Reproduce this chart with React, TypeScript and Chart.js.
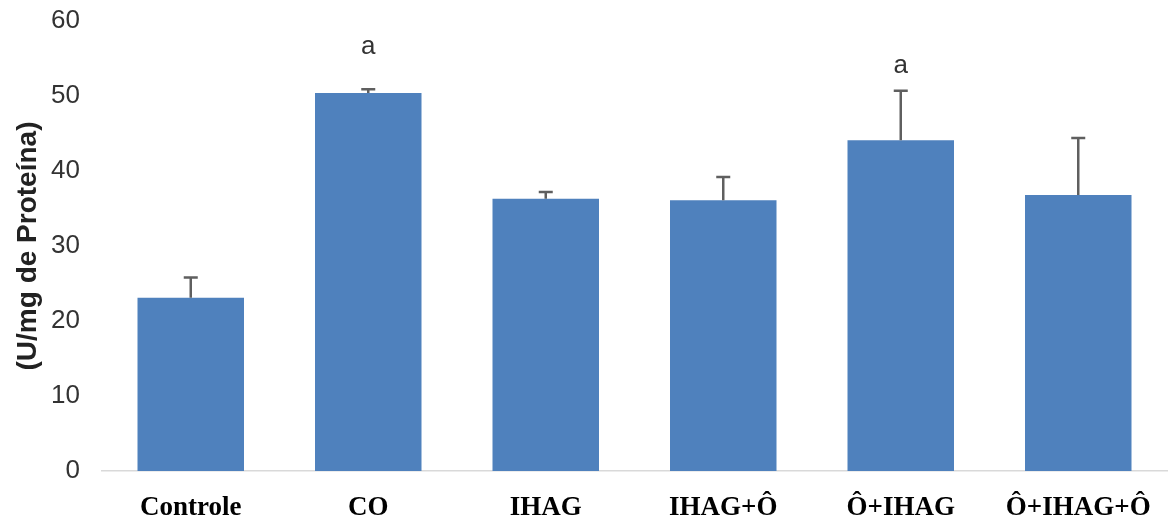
import React, { useEffect, useRef } from "react";
import { Chart, registerables } from "chart.js";

Chart.register(...registerables);

const categories = ["Controle", "CO", "IHAG", "IHAG+Ô", "Ô+IHAG", "Ô+IHAG+Ô"];
const means = [23.1, 50.4, 36.3, 36.1, 44.1, 36.8];
const errors = [2.7, 0.5, 0.9, 3.1, 6.6, 7.6];
const letters = ["", "a", "", "", "a", ""];
const letterLevels = [0, 55.6, 0, 0, 53.1, 0];
const yTicks = [0, 10, 20, 30, 40, 50, 60];
const yTitle = "(U/mg de Proteína)";

const errorBarPlugin = {
  id: "errorBars",
  afterDatasetsDraw(chart: any) {
    const meta = chart.getDatasetMeta(0);
    const yScale = chart.scales.y;
    const ctx = chart.ctx;
    ctx.save();
    ctx.strokeStyle = "#5f5f5f";
    ctx.lineWidth = 2.5;
    meta.data.forEach((bar: any, i: number) => {
      const x = bar.x;
      const yTop = yScale.getPixelForValue(means[i]);
      const yErr = yScale.getPixelForValue(means[i] + errors[i]);
      ctx.beginPath();
      ctx.moveTo(x, yTop);
      ctx.lineTo(x, yErr);
      ctx.moveTo(x - 7, yErr);
      ctx.lineTo(x + 7, yErr);
      ctx.stroke();
    });
    ctx.fillStyle = "#333333";
    ctx.font = "26px 'Liberation Sans', Arial, sans-serif";
    ctx.textAlign = "center";
    ctx.textBaseline = "alphabetic";
    meta.data.forEach((bar: any, i: number) => {
      if (!letters[i]) return;
      ctx.fillText(letters[i], bar.x, yScale.getPixelForValue(letterLevels[i]));
    });
    ctx.restore();
  },
};

export default function App() {
  const canvasRef = useRef<HTMLCanvasElement | null>(null);

  useEffect(() => {
    document.body.style.margin = "0";
    const canvas = canvasRef.current;
    if (!canvas) return;
    const chart = new Chart(canvas, {
      type: "bar",
      data: {
        labels: categories,
        datasets: [
          {
            data: means,
            backgroundColor: "#4F81BD",
            borderWidth: 0,
            barPercentage: 0.6,
            categoryPercentage: 1,
          },
        ],
      },
      options: {
        responsive: false,
        animation: false,
        layout: { padding: { top: 21, right: 1, left: 0, bottom: 0 } },
        plugins: {
          legend: { display: false },
          tooltip: { enabled: false },
        },
        scales: {
          x: {
            grid: { display: false, drawTicks: false },
            border: { display: true, color: "#d9d9d9", width: 1.5 },
            ticks: {
              padding: 21,
              color: "#000000",
              font: { family: "'Liberation Serif', 'Times New Roman', serif", size: 27, weight: "bold" },
              maxRotation: 0,
              autoSkip: false,
            },
            afterFit: (scale: any) => {
              scale.height = 44;
              scale.paddingLeft = 0;
              scale.paddingRight = 0;
            },
          },
          y: {
            min: 0,
            max: 60,
            grid: { display: false, drawTicks: false },
            border: { display: false },
            afterBuildTicks: (scale: any) => {
              scale.ticks = yTicks.map((v) => ({ value: v }));
            },
            ticks: {
              padding: 22,
              color: "#333333",
              font: { family: "'Liberation Sans', Arial, sans-serif", size: 26 },
            },
            title: {
              display: true,
              text: yTitle,
              color: "#222222",
              padding: { top: 11, bottom: 0 },
              font: { family: "'Liberation Sans', Arial, sans-serif", size: 28, weight: "bold" },
            },
            afterFit: (scale: any) => {
              scale.width = 102;
              scale.paddingTop = 0;
              scale.paddingBottom = 0;
            },
          },
        },
      },
      plugins: [errorBarPlugin],
    });
    return () => chart.destroy();
  }, []);

  return (
    <div style={{ width: 1168, height: 515, background: "#ffffff" }}>
      <canvas ref={canvasRef} width={1168} height={515} style={{ display: "block" }} />
    </div>
  );
}
